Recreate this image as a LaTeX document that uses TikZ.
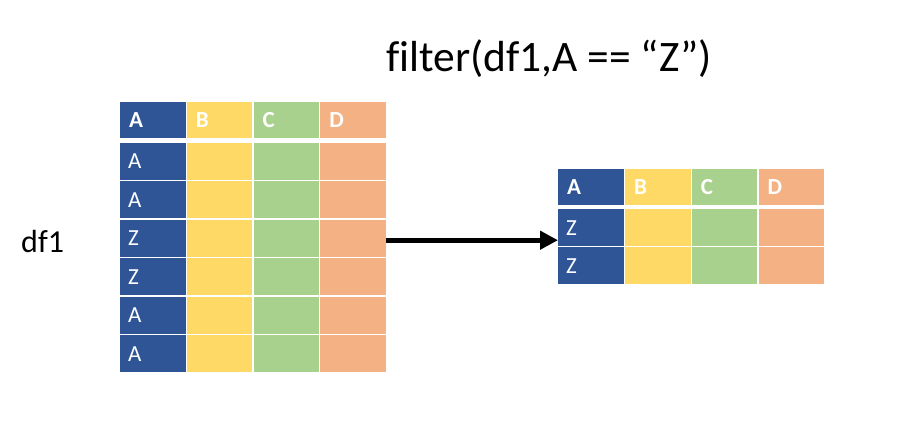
\documentclass[tikz,border=0pt]{standalone}
\usepackage{fontspec}
\setmainfont{Carlito}
\usetikzlibrary{arrows.meta}
\definecolor{cblue}{HTML}{2F5597}
\definecolor{cyellow}{HTML}{FFD966}
\definecolor{cgreen}{HTML}{A9D18E}
\definecolor{corange}{HTML}{F4B183}
\tikzset{
  cell/.style={rectangle, inner sep=0pt, minimum width=65.5pt, anchor=north west, draw=none},
  hcell/.style={cell, minimum height=36pt},
  rcell/.style={cell, minimum height=37pt},
  htext/.style={anchor=west, inner sep=0pt, text=white, font=\fontsize{23}{26}\selectfont\bfseries},
  rtext/.style={anchor=west, inner sep=0pt, text=white, font=\fontsize{23}{26}\selectfont},
  titletext/.style={inner sep=0pt, font=\fontsize{43.5}{48}\selectfont\addfontfeature{Ligatures=NoCommon}},
  dftext/.style={inner sep=0pt, font=\fontsize{32}{36}\selectfont},
  flow/.style={line width=5pt, -{Triangle[length=18pt,width=18pt]}}
}
\begin{document}
\begin{tikzpicture}[x=1pt,y=-1pt]
\useasboundingbox (0,0) rectangle (904,438);
\fill[white] (0,0) rectangle (904,438);
% ---------- left table ----------
\foreach \c/\x/\col/\h in {1/120/cblue/A,2/186.7/cyellow/B,3/253.4/cgreen/C,4/320.1/corange/D}{
  \node[hcell, fill=\col] (L-0-\c) at (\x,102) {};
  \node[htext] (LH-\c) at ([xshift=9pt]L-0-\c.west) {\h};
  \foreach \r in {1,...,6}{
    \node[rcell, fill=\col] (L-\r-\c) at (\x,{142.5+38.5*(\r-1)}) {};
  }
}
\foreach \r/\t in {1/A,2/A,3/Z,4/Z,5/A,6/A}{
  \node[rtext] (LT-\r) at ([xshift=8pt]L-\r-1.west) {\t};
}
% ---------- right table ----------
\foreach \c/\x/\col/\h in {1/558/cblue/A,2/624.8/cyellow/B,3/691.6/cgreen/C,4/758.4/corange/D}{
  \node[hcell, fill=\col] (R-0-\c) at (\x,169) {};
  \node[htext] (RH-\c) at ([xshift=9pt]R-0-\c.west) {\h};
  \foreach \r in {1,2}{
    \node[rcell, fill=\col] (R-\r-\c) at (\x,{209+38.2*(\r-1)}) {};
  }
}
\foreach \r/\t in {1/Z,2/Z}{
  \node[rtext] (RT-\r) at ([xshift=8pt]R-\r-1.west) {\t};
}
% ---------- labels ----------
\node[titletext] (title) at (549,59) {filter(df1,A == “Z”)};
\node[dftext, anchor=west] (df) at (21,241) {df1};
% ---------- arrow ----------
\coordinate (from) at ([yshift=-2pt]L-3-4.east);
\coordinate (to) at (R-1-1.west |- from);
\draw[flow] (from) -- (to);
\end{tikzpicture}
\end{document}
